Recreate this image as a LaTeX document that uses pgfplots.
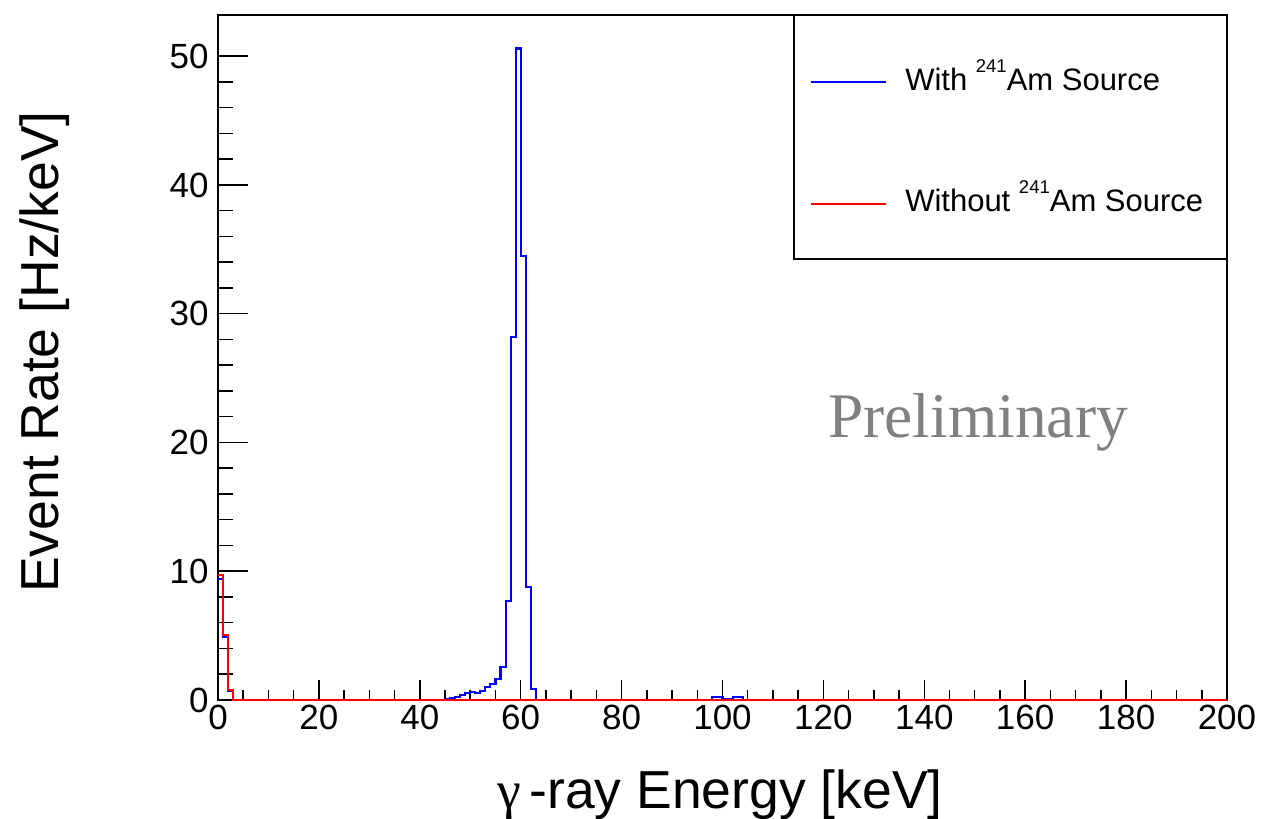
\documentclass[border=0pt]{standalone}
\usepackage{fontspec}
\setmainfont{Liberation Sans}
\newfontfamily\timesfont{Liberation Serif}
\usepackage{pgfplots}
\pgfplotsset{compat=1.18}
\usepackage{pgfplotstable}

\definecolor{rootblue}{RGB}{0,0,255}
\definecolor{rootred}{RGB}{255,0,0}
\definecolor{prelimgray}{RGB}{128,128,128}

% 1 keV bins, value of each bin stored at its lower edge
\pgfplotstableread{
E rate
0 9.4
1 4.9
2 0.7
3 0
45 0.05
46 0.14
47 0.26
48 0.39
49 0.54
50 0.6
51 0.52
52 0.67
53 0.98
54 1.24
55 1.65
56 2.55
57 7.7
58 28.2
59 50.6
60 34.5
61 8.8
62 0.85
63 0.03
64 0
98 0.2
99 0.22
100 0.08
101 0.06
102 0.22
103 0.2
104 0.03
105 0
200 0
}\withsource

\pgfplotstableread{
E rate
0 9.7
1 5.05
2 0.8
3 0
200 0
}\withoutsource

\begin{document}
\begin{tikzpicture}
\path[use as bounding box] (0bp,0bp) rectangle (1277bp,819bp);
\begin{axis}[
  at={(218bp,119bp)}, anchor=origin,
  scale only axis, width=1009bp, height=685bp,
  xmin=0, xmax=200, ymin=0, ymax=53.2,
  clip=false,
  axis line style={line width=1.6bp},
  xtick={0,20,...,200}, minor x tick num=3,
  ytick={0,10,...,50}, minor y tick num=4,
  xtick pos=left, ytick pos=left, tick align=inside,
  every tick/.style={black, line width=1.5bp},
  xtick style={/pgfplots/major tick length=20bp, /pgfplots/minor tick length=10bp},
  ytick style={/pgfplots/major tick length=30bp, /pgfplots/minor tick length=15bp},
  tick label style={font=\fontsize{35bp}{40bp}\selectfont},
  /pgf/number format/assume math mode=true,
  xticklabel style={yshift=-2bp},
  yticklabel style={xshift=-6bp},
  xlabel={{\timesfont γ}\,-ray Energy [keV]},
  ylabel={Event Rate [Hz/keV]},
  label style={font=\fontsize{53.5bp}{60bp}\selectfont},
  xlabel style={at={(axis description cs:0.4975,-0.1387)}, anchor=center},
  ylabel style={at={(axis description cs:-0.1715,0.508)}, anchor=center},
  legend style={at={(0.5867,0.9226)}, anchor=north west, draw=none, fill=none,
    inner sep=0pt, row sep=93.7bp,
    nodes={inner sep=0pt, text height=22bp, text depth=6bp,
      font=\fontsize{31bp}{36bp}\selectfont},
    /tikz/every odd column/.append style={column sep=18bp}},
  legend cell align=left,
  legend image code/.code={\draw[#1] (0bp,0bp) -- (75bp,0bp);},
]
\addplot[const plot, rootblue, line width=2.1bp] table[x=E, y=rate] {\withsource};
\addlegendentry{With \raisebox{18bp}{\fontsize{18.5bp}{18bp}\selectfont 241}Am Source}
\addplot[const plot, rootred, line width=2.1bp] table[x=E, y=rate] {\withoutsource};
\addlegendentry{Without \raisebox{18bp}{\fontsize{18.5bp}{18bp}\selectfont 241}Am Source}

\draw[line width=1.6bp] (rel axis cs:0.5709,0.6438) rectangle (rel axis cs:1,1);
\node[text=prelimgray, font=\timesfont\fontsize{63.5bp}{64bp}\selectfont]
  at (rel axis cs:0.7532,0.4058) {Preliminary};
\end{axis}
\end{tikzpicture}
\end{document}
